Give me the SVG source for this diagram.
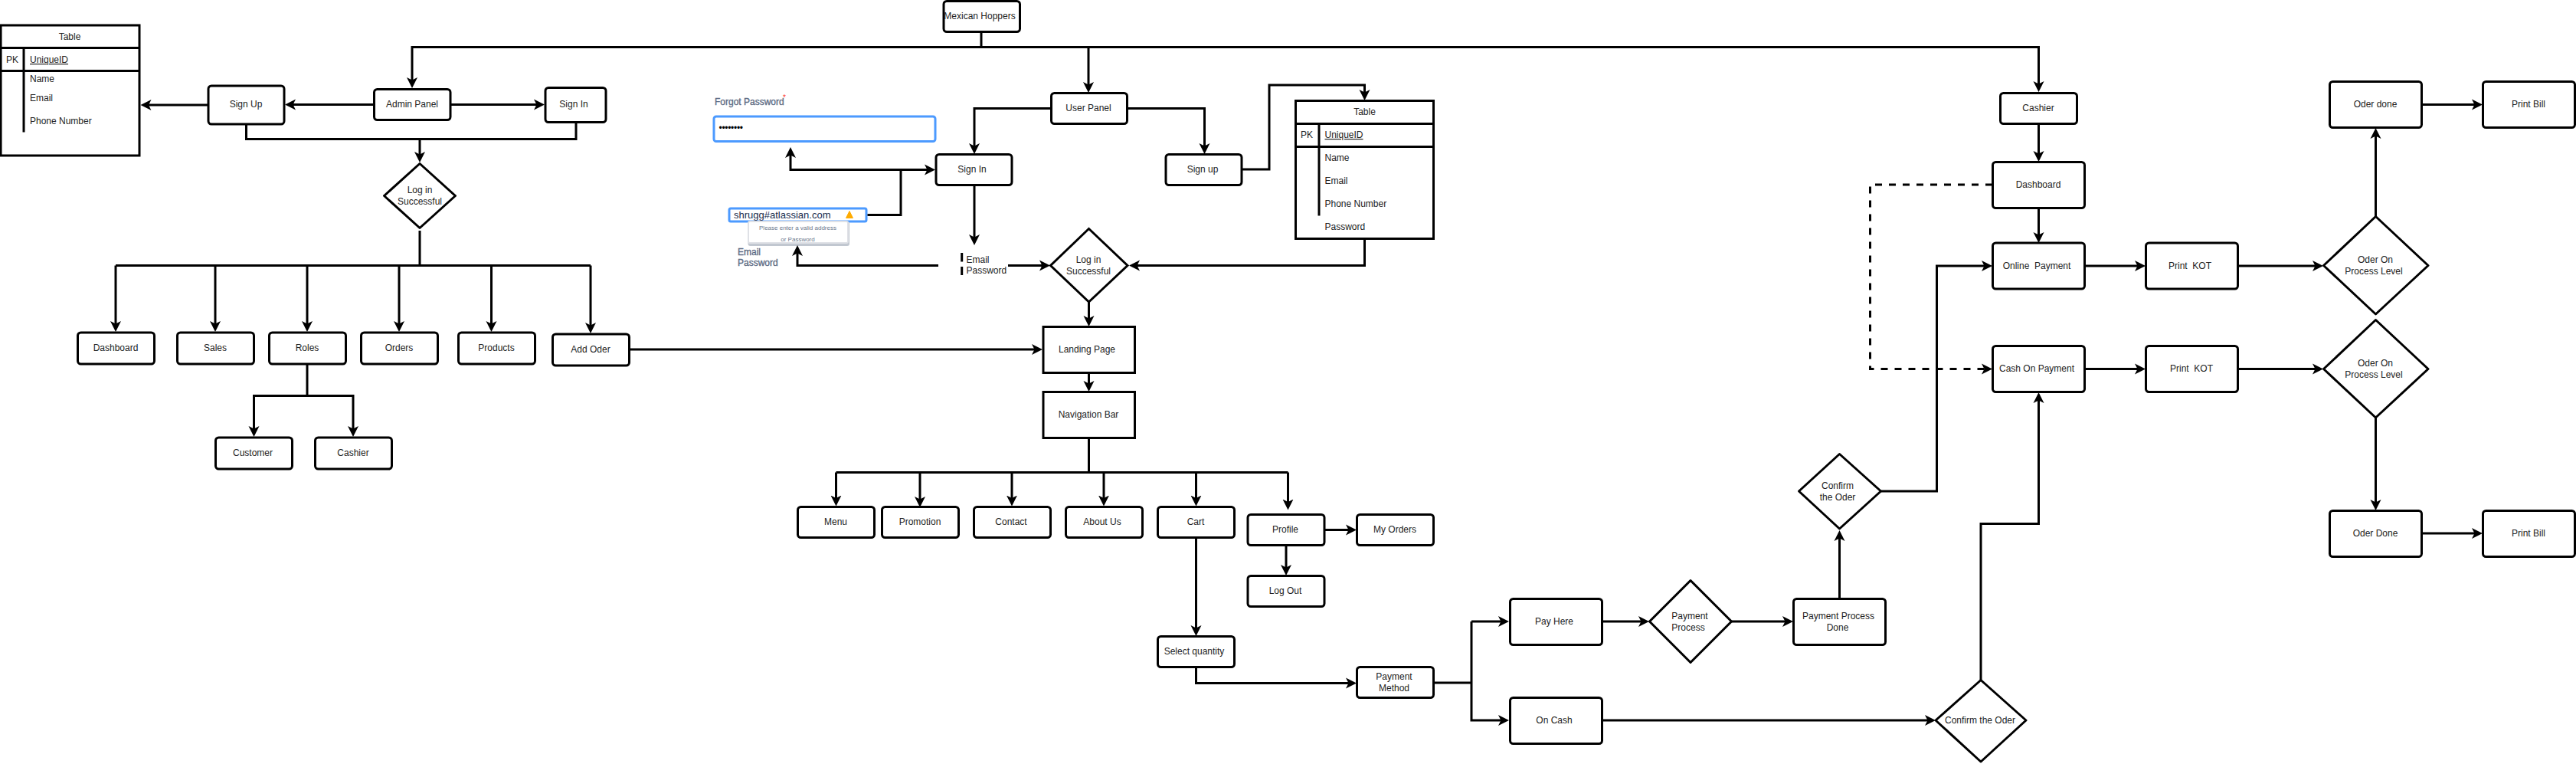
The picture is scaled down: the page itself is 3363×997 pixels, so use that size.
<svg xmlns="http://www.w3.org/2000/svg" width="3363" height="997" viewBox="0 0 3363 997">
<style>
text{font-family:"Liberation Sans",Arial,sans-serif;font-size:12px;fill:#222;white-space:pre}
.m{text-anchor:middle}
.b{fill:#fff;stroke:#000;stroke-width:3}
.c{fill:none;stroke:#000;stroke-width:3}
.a{marker-end:url(#arr)}
.d{stroke-dasharray:9 9}
.f{fill:#5e6c84;stroke:#5e6c84;stroke-width:.35}
.i{fill:#fff;stroke:#4c9aff;stroke-width:3}
</style>
<defs>
<marker id="arr" markerUnits="userSpaceOnUse" markerWidth="16" markerHeight="16" refX="8" refY="8" orient="auto"><path d="M14 8L0 15L3.500 8L0 1Z" fill="#000"/></marker>
</defs>
<rect width="3363" height="997" fill="#fff"/>

<g id="mexican-hoppers"><rect class="b" x="1232" y="1.5" width="99.5" height="40" rx="4"/><text class="m" x="1279" y="25">Mexican Hoppers</text></g>
<g id="admin-table"><rect class="b" x="1" y="33" width="181" height="170"/><path class="c" d="M1 62.5H182M1 92.5H182M31 62.5V172.5"/><text class="m" x="91" y="52">Table</text><text class="m" x="16" y="82">PK</text><text x="39" y="82" text-decoration="underline">UniqueID</text><text x="39" y="107">Name</text><text x="39" y="132">Email</text><text x="39" y="162">Phone Number</text></g>
<g id="admin-sign-up"><rect class="b" x="272" y="112" width="99" height="50" rx="4"/><text class="m" x="321" y="140">Sign Up</text></g>
<g id="admin-panel"><rect class="b" x="488.500" y="116.500" width="99.500" height="40" rx="4"/><text class="m" x="538" y="140">Admin Panel</text></g>
<g id="admin-sign-in"><rect class="b" x="712" y="114.500" width="79" height="45" rx="4"/><text class="m" x="749" y="140">Sign In</text></g>
<g id="admin-login"><path class="b" stroke-linejoin="round" d="M548 213.500L594.500 255.500L548 297.500L501.500 255.500Z"/><text class="m" x="548" y="252">Log in</text><text class="m" x="548" y="267">Successful</text></g>
<g id="dashboard"><rect class="b" x="101.500" y="434" width="100" height="41" rx="4"/><text class="m" x="151" y="458">Dashboard</text></g>
<g id="sales"><rect class="b" x="231.500" y="434" width="100" height="41" rx="4"/><text class="m" x="281" y="458">Sales</text></g>
<g id="roles"><rect class="b" x="351.500" y="434" width="100" height="41" rx="4"/><text class="m" x="401" y="458">Roles</text></g>
<g id="orders"><rect class="b" x="471.500" y="434" width="100" height="41" rx="4"/><text class="m" x="521" y="458">Orders</text></g>
<g id="products"><rect class="b" x="598.500" y="434" width="100" height="41" rx="4"/><text class="m" x="648" y="458">Products</text></g>
<g id="add-oder"><rect class="b" x="721.500" y="436" width="100" height="41" rx="4"/><text class="m" x="771" y="460">Add Oder</text></g>
<g id="customer"><rect class="b" x="281.500" y="571" width="100" height="41" rx="4"/><text class="m" x="330" y="595">Customer</text></g>
<g id="cashier-role"><rect class="b" x="411.500" y="571" width="100" height="41" rx="4"/><text class="m" x="461" y="595">Cashier</text></g>

<g id="forgot-password"><text class="f" x="933" y="137">Forgot Password</text><text x="1022" y="131" style="font-size:10px;fill:#ff3b30">*</text><rect class="i" x="932" y="152" width="289" height="32.500" rx="3"/><text x="938.500" y="171" style="font-size:12px;letter-spacing:-.3px;fill:#000">••••••••</text></g>
<g id="email-error"><rect class="i" x="952" y="272" width="179" height="17" rx="2"/><text x="958" y="285" style="font-size:13px;fill:#172b4d">shrugg#atlassian.com</text><path d="M1109 275.500L1113.500 284.500H1104.500Z" fill="#ffab00" stroke="#ffab00" stroke-linejoin="round"/><rect x="976.500" y="289" width="132.500" height="32" rx="3" fill="#c1c7d0"/><rect x="977" y="289" width="130" height="28" rx="2" fill="#fff" stroke="#dfe1e6" stroke-width="2"/><text class="m" x="1041.500" y="300" style="font-size:8px;fill:#6b778c">Please enter a valid address</text><text class="m" x="1041.500" y="315" style="font-size:8px;fill:#6b778c">or Password</text><text class="f" x="963" y="333">Email</text><text class="f" x="963" y="347">Password</text></g>
<g id="user-panel"><rect class="b" x="1372.500" y="121.500" width="99" height="40" rx="4"/><text class="m" x="1421" y="145">User Panel</text></g>
<g id="user-sign-in"><rect class="b" x="1222" y="201.500" width="99" height="40" rx="4"/><text class="m" x="1269" y="225">Sign In</text></g>
<g id="user-sign-up"><rect class="b" x="1522" y="201.500" width="99" height="40" rx="4"/><text class="m" x="1570" y="225">Sign up</text></g>
<g id="user-table"><rect class="b" x="1691.500" y="131.500" width="180" height="180"/><path class="c" d="M1691.500 161.500H1871.500M1691.500 191.500H1871.500M1722 161.500V281.500"/><text class="m" x="1781.500" y="150">Table</text><text class="m" x="1706" y="180">PK</text><text x="1729.500" y="180" text-decoration="underline">UniqueID</text><text x="1729.500" y="210">Name</text><text x="1729.500" y="240">Email</text><text x="1729.500" y="270">Phone Number</text><text x="1729.500" y="300">Password</text></g>
<g id="user-credentials"><path d="M1255.700 330V341.500M1255.700 348V359" fill="none" stroke="#000" stroke-width="3"/><text x="1261.500" y="343">Email</text><text x="1261.500" y="357">Password</text></g>
<g id="user-login"><path class="b" d="M1421.500 298.500L1472 346.500L1421.500 394L1371.500 346.500Z"/><text class="m" x="1421" y="343">Log in</text><text class="m" x="1421" y="358">Successful</text></g>
<g id="landing-page"><rect class="b" x="1362" y="426.500" width="119.500" height="60"/><text class="m" x="1419" y="460">Landing Page</text></g>
<g id="navigation-bar"><rect class="b" x="1362" y="511.500" width="119.500" height="60"/><text class="m" x="1421" y="545">Navigation Bar</text></g>
<g id="menu"><rect class="b" x="1041.500" y="661.500" width="100" height="40" rx="4"/><text class="m" x="1091" y="685">Menu</text></g>
<g id="promotion"><rect class="b" x="1151.500" y="661.500" width="100" height="40" rx="4"/><text class="m" x="1201" y="685">Promotion</text></g>
<g id="contact"><rect class="b" x="1271.500" y="661.500" width="100" height="40" rx="4"/><text class="m" x="1320" y="685">Contact</text></g>
<g id="about-us"><rect class="b" x="1391.500" y="661.500" width="100" height="40" rx="4"/><text class="m" x="1439" y="685">About Us</text></g>
<g id="cart"><rect class="b" x="1511.500" y="661.500" width="100" height="40" rx="4"/><text class="m" x="1561" y="685">Cart</text></g>
<g id="profile"><rect class="b" x="1629" y="671.500" width="100" height="40" rx="4"/><text class="m" x="1678" y="695">Profile</text></g>
<g id="my-orders"><rect class="b" x="1771.500" y="671.500" width="100" height="40" rx="4"/><text class="m" x="1821" y="695">My Orders</text></g>
<g id="log-out"><rect class="b" x="1629" y="751.500" width="100" height="40" rx="4"/><text class="m" x="1678" y="775">Log Out</text></g>
<g id="select-quantity"><rect class="b" x="1511.500" y="830.500" width="100" height="40" rx="4"/><text class="m" x="1559" y="854">Select quantity</text></g>
<g id="payment-method"><rect class="b" x="1771.500" y="870.500" width="100" height="40" rx="4"/><text class="m" x="1820" y="887">Payment</text><text class="m" x="1820" y="902">Method</text></g>
<g id="pay-here"><rect class="b" x="1971.500" y="781.500" width="120" height="60" rx="4"/><text class="m" x="2029" y="815">Pay Here</text></g>
<g id="on-cash"><rect class="b" x="1971.500" y="910.500" width="120" height="60" rx="4"/><text class="m" x="2029" y="944">On Cash</text></g>
<g id="payment-process"><path class="b" stroke-linejoin="round" d="M2207 757.500L2260.500 811L2207 864.500L2153.500 811Z"/><text class="m" x="2206" y="808">Payment</text><text class="m" x="2204" y="823">Process</text></g>
<g id="payment-done"><rect class="b" x="2341.500" y="781.500" width="120" height="60" rx="4"/><text class="m" x="2400" y="808">Payment Process</text><text class="m" x="2399" y="823">Done</text></g>
<g id="confirm-online"><path class="b" stroke-linejoin="round" d="M2401.500 592.500L2455.500 641L2401.500 690L2348.500 641Z"/><text class="m" x="2399" y="638">Confirm</text><text class="m" x="2399" y="653">the Oder</text></g>
<g id="confirm-cash"><path class="b" stroke-linejoin="round" d="M2586 887.500L2645 940L2586 994L2527 940Z"/><text class="m" x="2585" y="944">Confirm the Oder</text></g>
<g id="cashier"><rect class="b" x="2611.500" y="121.500" width="100" height="40" rx="4"/><text class="m" x="2661" y="145">Cashier</text></g>
<g id="cashier-dashboard"><rect class="b" x="2601.500" y="211.500" width="120" height="60" rx="4"/><text class="m" x="2661" y="245">Dashboard</text></g>
<g id="online-payment"><rect class="b" x="2601.500" y="317" width="120" height="60" rx="4"/><text class="m" x="2659" y="351">Online  Payment</text></g>
<g id="cash-on-payment"><rect class="b" x="2601.500" y="451.500" width="120" height="60" rx="4"/><text class="m" x="2659" y="485">Cash On Payment</text></g>
<g id="print-kot-1"><rect class="b" x="2801.500" y="317" width="120" height="60" rx="4"/><text class="m" x="2859" y="351">Print  KOT</text></g>
<g id="print-kot-2"><rect class="b" x="2801.500" y="451.500" width="120" height="60" rx="4"/><text class="m" x="2861" y="485">Print  KOT</text></g>
<g id="process-level-1"><path class="b" stroke-linejoin="round" d="M3101.500 282.500L3170 346.500L3101.500 410L3033.500 346.500Z"/><text class="m" x="3101" y="343">Oder On</text><text class="m" x="3099" y="358">Process Level</text></g>
<g id="process-level-2"><path class="b" stroke-linejoin="round" d="M3101.500 417.500L3170 481.500L3101.500 545L3033.500 481.500Z"/><text class="m" x="3101" y="478">Oder On</text><text class="m" x="3099" y="493">Process Level</text></g>
<g id="oder-done-1"><rect class="b" x="3041.500" y="106.500" width="120" height="60" rx="4"/><text class="m" x="3101" y="140">Oder done</text></g>
<g id="print-bill-1"><rect class="b" x="3241.500" y="106.500" width="120" height="60" rx="4"/><text class="m" x="3301" y="140">Print Bill</text></g>
<g id="oder-done-2"><rect class="b" x="3041.500" y="666.500" width="120" height="60" rx="4"/><text class="m" x="3101" y="700">Oder Done</text></g>
<g id="print-bill-2"><rect class="b" x="3241.500" y="666.500" width="120" height="60" rx="4"/><text class="m" x="3301" y="700">Print Bill</text></g>

<g id="connectors">
<path class="c a" d="M1281 42V61.500H538V109"/>
<path class="c a" d="M1281 61.500H2661.500V114"/>
<path class="c a" d="M1421 61.500V115"/>
<path class="c a" d="M488 136.500H378"/>
<path class="c a" d="M588 136.500H705"/>
<path class="c a" d="M271 137H189.500"/>
<path class="c" d="M321.500 162V181.500H752V160"/>
<path class="c a" d="M548 181.500V206"/>
<path class="c" d="M548 301V346.500M151 346.500H771"/>
<path class="c a" d="M151 346.500V427"/>
<path class="c a" d="M281 346.500V427"/>
<path class="c a" d="M401 346.500V427"/>
<path class="c a" d="M521 346.500V427"/>
<path class="c a" d="M641.500 346.500V427"/>
<path class="c a" d="M771 346.500V429"/>
<path class="c" d="M401 475V516.500"/>
<path class="c a" d="M401 516.500H331.500V564"/>
<path class="c a" d="M401 516.500H461V564"/>
<path class="c a" d="M821 456H1355"/>
<path class="c a" d="M1372 141.500H1272V195"/>
<path class="c a" d="M1471.500 141.500H1572.500V195"/>
<path class="c a" d="M1621.500 221H1657V111H1781.500V125"/>
<path class="c a" d="M1781.500 311V346.500H1480"/>
<path class="c a" d="M1272 241V314"/>
<path class="c a" d="M1225 346.500H1041V326"/>
<path class="c a" d="M1316 346.500H1365"/>
<path class="c" d="M1132.500 280.500H1176V221.500"/>
<path class="c a" d="M1176 221.500H1215"/>
<path class="c a" d="M1176 221.500H1032V198"/>
<path class="c a" d="M1421.500 394V420"/>
<path class="c a" d="M1421.500 487V505"/>
<path class="c" d="M1421.500 571V616.500M1091.500 616.500H1681.500"/>
<path class="c a" d="M1091.500 616.500V654.500"/>
<path class="c a" d="M1201 616.500V656"/>
<path class="c a" d="M1321 616.500V654.500"/>
<path class="c a" d="M1441 616.500V654.500"/>
<path class="c a" d="M1561.500 616.500V654.500"/>
<path class="c a" d="M1681.500 616.500V659.500"/>
<path class="c a" d="M1729 691.500H1765"/>
<path class="c a" d="M1679 712V745"/>
<path class="c a" d="M1561.500 702V824"/>
<path class="c a" d="M1561.500 871V891.500H1765"/>
<path class="c" d="M1872 891H1921"/>
<path class="c a" d="M1921 811H1964"/>
<path class="c a" d="M1921 811V940H1964"/>
<path class="c a" d="M2092 811H2147"/>
<path class="c a" d="M2261 811H2335"/>
<path class="c a" d="M2401.500 781V698"/>
<path class="c a" d="M2456 641H2528.500V347H2595"/>
<path class="c a" d="M2092 940H2521"/>
<path class="c a" d="M2586 887V683.500H2661.500V518"/>
<path class="c a" d="M2661.500 162V205"/>
<path class="c a" d="M2661.500 271V311"/>
<path class="c a" d="M2722 347H2795"/>
<path class="c a" d="M2921 347H3027"/>
<path class="c a" d="M2722 481.500H2795"/>
<path class="c a" d="M2921 481.500H3027"/>
<path class="c a" d="M3101.500 282V173"/>
<path class="c a" d="M3101.500 545V660"/>
<path class="c a" d="M3162 136.500H3235"/>
<path class="c a" d="M3162 696H3235"/>
<path class="c a d" d="M2601 241H2441.500V481.500H2595"/>
</g>
</svg>
